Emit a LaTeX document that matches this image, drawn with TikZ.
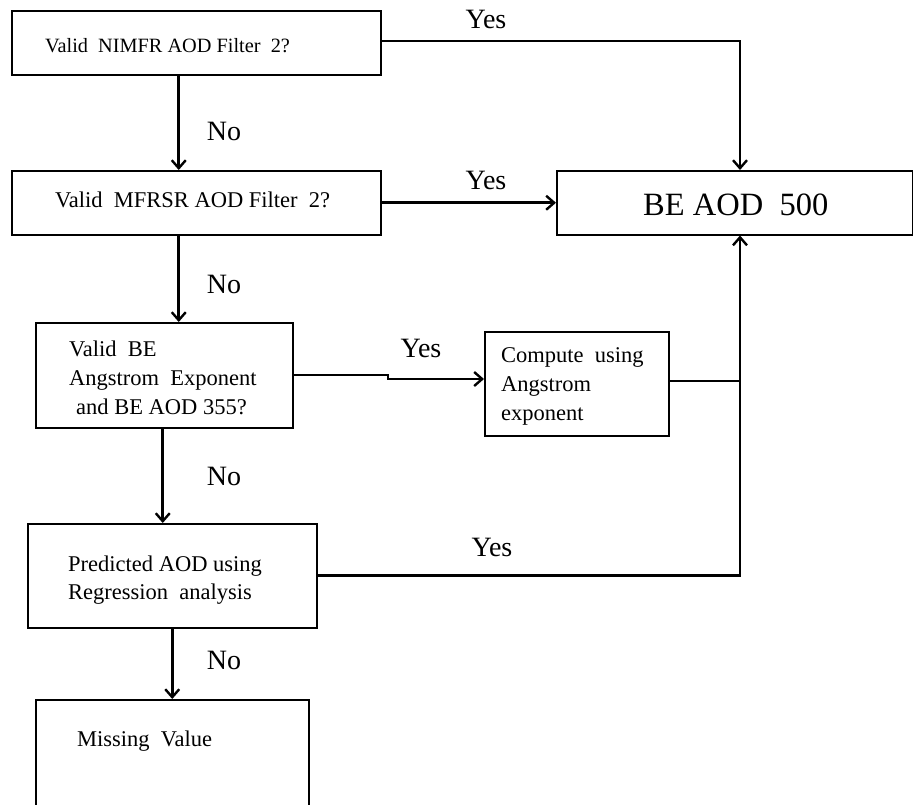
\documentclass[tikz,border=0pt]{standalone}
\usepackage{fontspec}
\setmainfont{Liberation Serif}
\usetikzlibrary{arrows.meta}
\begin{document}
\begin{tikzpicture}[x=1pt,y=-1pt,
 box/.style={draw,line width=1.5pt,rectangle,inner sep=0pt,anchor=north west},
 txt/.style={inner sep=0pt,anchor=west,font=\fontsize{22.5}{29}\selectfont,align=left},
 lbl/.style={inner sep=0pt,font=\fontsize{28}{32}\selectfont},
 conn/.style={line width=2.6pt,-{Straight Barb[length=8pt,width=14pt,line width=2.4pt]}},
 wire/.style={line width=2.6pt}]
\useasboundingbox (0,0) rectangle (913,804);
% boxes
\node[box,minimum width=369pt,minimum height=64pt] (b1) at (11,10) {};
\node[box,minimum width=369pt,minimum height=64pt] (b2) at (11,170) {};
\node[box,minimum width=356pt,minimum height=64pt] (be) at (556,170) {};
\node[box,minimum width=257pt,minimum height=105pt] (b3) at (35,322) {};
\node[box,minimum width=184pt,minimum height=104pt] (c) at (484,331) {};
\node[box,minimum width=289pt,minimum height=104pt] (b4) at (27,523) {};
\node[box,minimum width=273pt,minimum height=106pt] (b5) at (35,699) {};
% texts
\node[txt,font=\fontsize{20.3}{24}\selectfont] (t1) at (45,46) {Valid\ \ NIMFR AOD Filter\ \ 2?};
\node[txt] (t2) at (55,200) {Valid\ \ MFRSR AOD Filter\ \ 2?};
\node[txt] (t3) at (69,378) {Valid\ \ BE\\Angstrom\ \ Exponent\\\hspace{7pt}and BE AOD 355?};
\node[txt] (t4) at (501,386) {Compute\ \ using\\Angstrom\\exponent};
\node[txt,font=\fontsize{22.5}{28}\selectfont] (t5) at (68,580) {Predicted AOD using\\Regression\ \ analysis};
\node[txt] (t6) at (77,741) {Missing\ \ Value};
\node[txt,font=\fontsize{32.5}{36}\selectfont] (t7) at (643,205) {BE AOD\ \ 500};
% labels
\node[lbl] (y1) at (486,19) {Yes};
\node[lbl] (y2) at (486,180) {Yes};
\node[lbl] (y3) at (421,348) {Yes};
\node[lbl] (y4) at (492,547) {Yes};
\node[lbl] (n1) at (224,131) {No};
\node[lbl] (n2) at (224,284) {No};
\node[lbl] (n3) at (224,476) {No};
\node[lbl] (n4) at (224,660) {No};
% junction points
\coordinate (j1) at (740,41);
\coordinate (j2) at (740,381);
\coordinate (s3) at (388,375);
% connectors
\draw[conn] (b1.east |- j1) -- (j1) -- (j1 |- be.north);
\draw[conn] ([xshift=-17.5pt]b1.south) -- ([xshift=-17.5pt]b1.south |- b2.north);
\draw[conn] (b2.east) -- (be.west);
\draw[conn] ([xshift=-17.5pt]b2.south) -- ([xshift=-17.5pt]b2.south |- b3.north);
\draw[conn] (b3.east |- s3) -- (s3) -- ++(0,4) -- (c.west |- 0,379);
\draw[wire] (c.east |- j2) -- (j2);
\draw[conn] (b4.east) -| (j2 |- be.south);
\draw[conn] ([xshift=-1.5pt]b3.south) -- ([xshift=-1.5pt]b3.south |- b4.north);
\draw[conn] (b4.south) -- (b5.north);
\end{tikzpicture}
\end{document}
